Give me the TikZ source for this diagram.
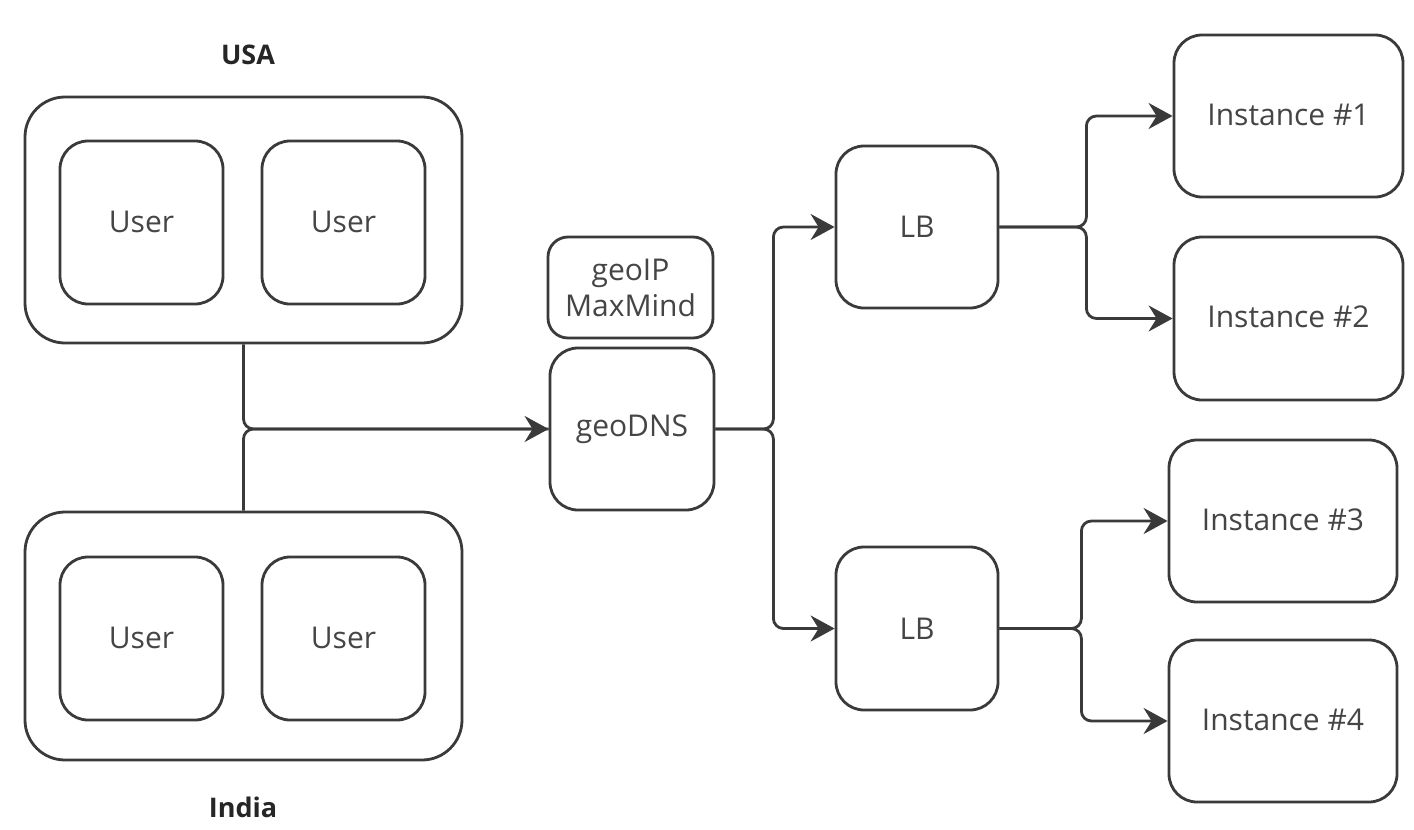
\documentclass[tikz,border=0pt]{standalone}
\usepackage{fontspec}
\setmainfont{Open Sans}
\usetikzlibrary{arrows.meta}
\definecolor{linec}{HTML}{3A3A3A}
\definecolor{textc}{HTML}{454545}
\begin{document}
\begin{tikzpicture}[x=1pt,y=-1pt,
  box/.style={draw=linec, line width=2.8pt, rounded corners=28pt, text=textc,
    font=\fontsize{30}{36}\selectfont, inner sep=0pt, align=center},
  container/.style={box, rounded corners=40pt},
  region/.style={text=black!85, font=\fontsize{27}{30}\selectfont\bfseries, inner sep=0pt},
  conn/.style={draw=linec, line width=2.8pt, rounded corners=10pt},
  arr/.style={conn, -{Stealth[length=24pt,width=26pt,inset=8pt]}}
]
\useasboundingbox (0,0) rectangle (1414,830);
\fill[white] (0,0) rectangle (1414,830);

% containers
\node[container, minimum width=437pt, minimum height=246pt] (usa) at (243.5,220) {};
\node[container, minimum width=437pt, minimum height=248pt] (india) at (243.5,636) {};
\node[region] (usalbl) at (248,55) {USA};
\node[region] (indialbl) at (243,807) {India};

% users
\node[box, minimum width=163pt, minimum height=163pt] (u1) at (141.5,222.5) {\raisebox{2pt}{User}};
\node[box, minimum width=163pt, minimum height=163pt] (u2) at (343.5,222.5) {\raisebox{2pt}{User}};
\node[box, minimum width=163pt, minimum height=163pt] (u3) at (141.5,638.5) {\raisebox{2pt}{User}};
\node[box, minimum width=163pt, minimum height=163pt] (u4) at (343.5,638.5) {\raisebox{2pt}{User}};

% geo
\node[box, rounded corners=20pt, minimum width=165pt, minimum height=101pt] (geoip) at (630.5,287.5) {geoIP\\MaxMind};
\node[box, minimum width=164pt, minimum height=162pt] (geodns) at (632,429) {geoDNS};

% load balancers
\node[box, minimum width=162pt, minimum height=162pt] (lb1) at (917,227) {LB};
\node[box, minimum width=162pt, minimum height=163pt] (lb2) at (917,628.5) {LB};

% instances
\node[box, minimum width=229pt, minimum height=162pt] (i1) at (1288.5,116) {\raisebox{3pt}{Instance \#1}};
\node[box, minimum width=229pt, minimum height=163pt] (i2) at (1288.5,318.5) {\raisebox{3pt}{Instance \#2}};
\node[box, minimum width=228pt, minimum height=162pt] (i3) at (1283,521) {\raisebox{3pt}{Instance \#3}};
\node[box, minimum width=228pt, minimum height=162pt] (i4) at (1283,721) {\raisebox{3pt}{Instance \#4}};

% connectors
\draw[arr] (usa.south) |- (geodns.west);
\draw[conn] (india.north) |- (geodns.west);

\draw[arr] (geodns.east) -- ++(58,0) |- (lb1.west);
\draw[arr] (geodns.east) -- ++(58,0) |- (lb2.west);

\draw[arr] (lb1.east) -- ++(87,0) |- (i1.west);
\draw[arr] (lb1.east) -- ++(87,0) |- (i2.west);

\draw[arr] (lb2.east) -- ++(82,0) |- (i3.west);
\draw[arr] (lb2.east) -- ++(82,0) |- (i4.west);
\end{tikzpicture}
\end{document}
